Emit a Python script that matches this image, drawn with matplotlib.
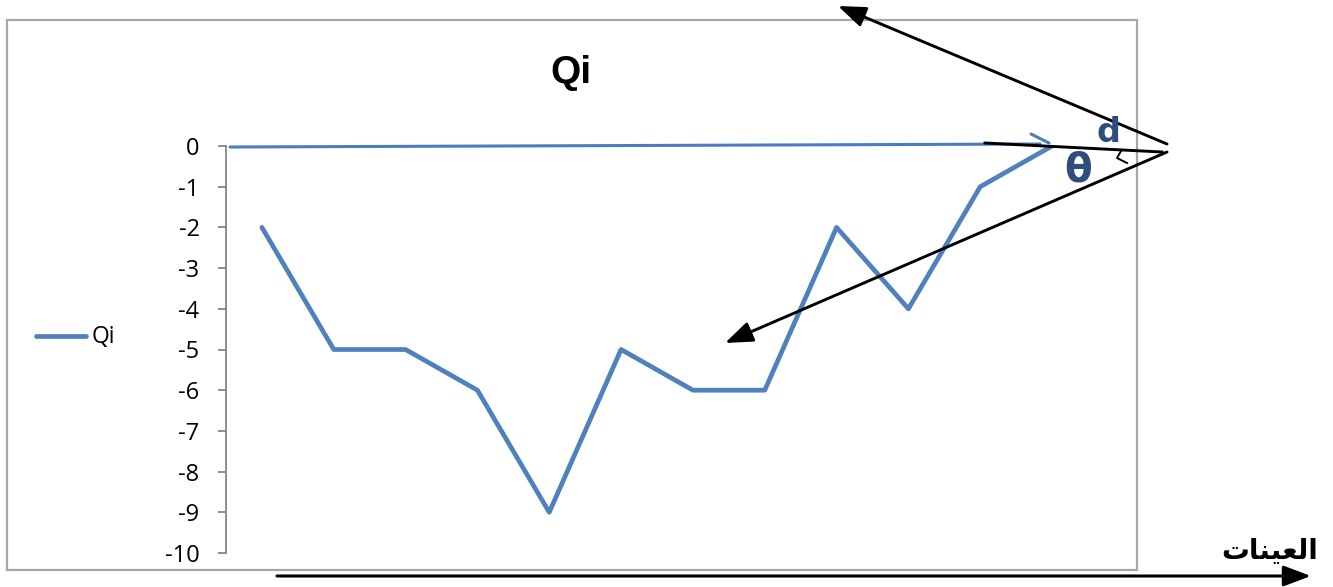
import matplotlib
matplotlib.use("Agg")
import matplotlib.pyplot as plt
from matplotlib.patches import Rectangle, FancyArrowPatch

# Qi values for the twelve samples
samples = list(range(1, 13))
qi = [-2, -5, -5, -6, -9, -5, -6, -6, -2, -4, -1, 0]
yticks = list(range(0, -11, -1))
series_name = "Qi"
title = "Qi"
# "العينات" (samples) written in visual order with Arabic presentation forms
x_label = "\uFE95\uFE8E\uFEE8\uFEF4\uFECC\uFEDF\uFE8D"

W, H = 1333, 587
fig = plt.figure(figsize=(W / 100, H / 100), dpi=100)
fig.patch.set_facecolor("white")

def fx(px):
    return px / W

def fy(py):
    return 1 - py / H

line_blue = "#4F81BD"

# chart area
left, right, top, bottom = 226, 1088, 146, 553
ax = fig.add_axes([fx(left), fy(bottom), fx(right) - fx(left), fy(top) - fy(bottom)])
ax.set_facecolor("none")
ax.plot(samples, qi, color=line_blue, lw=3.4, solid_joinstyle="round",
        solid_capstyle="round", label=series_name, zorder=3)
ax.set_xlim(0.5, 12.5)
ax.set_ylim(-10, 0)
ax.set_yticks(yticks)
ax.set_yticklabels([str(v) for v in yticks])
for s in ["top", "right", "bottom"]:
    ax.spines[s].set_visible(False)
ax.spines["left"].set_color("#868686")
ax.spines["left"].set_linewidth(1.3)
ax.set_xticks([])
ax.tick_params(axis="y", direction="out", length=6, width=1.3, color="#868686",
               pad=13, labelsize=17, labelcolor="black")
for lbl in ax.get_yticklabels():
    lbl.set_fontfamily("Open Sans")

# overlay in pixel coordinates for frame, title, legend and annotations
ov = fig.add_axes([0, 0, 1, 1], zorder=5)
ov.set_xlim(0, W)
ov.set_ylim(H, 0)
ov.axis("off")
ov.patch.set_alpha(0)

ov.add_patch(Rectangle((7, 20), 1130, 550, fill=False, ec="#a6a6a6", lw=1.6, zorder=1))

ov.text(571, 73, title, ha="center", va="center", fontsize=28, fontweight="bold",
        family="Liberation Sans", color="black")

# legend
ov.plot([36, 86], [336, 336], color=line_blue, lw=3.4, solid_capstyle="round")
ov.text(92, 337, series_name, ha="left", va="center", fontsize=16.5,
        family="Open Sans", color="black")

# hand-drawn reference line at zero with its chevron
ov.plot([230, 1040], [147, 144], color="#4A7EBB", lw=2.2, solid_capstyle="round")
ov.plot([1031, 1049], [134, 143], color="#4A7EBB", lw=2.2, solid_capstyle="round")

# black construction lines
ov.plot([985, 1162], [143, 152], color="black", lw=2.1)
for tip in [(838, 6), (725, 343)]:
    start = (1167, 144) if tip[1] < 100 else (1167, 152)
    ov.add_patch(FancyArrowPatch(start, tip, arrowstyle="-|>,head_length=12,head_width=4.5",
                                 mutation_scale=1.4, color="black", lw=2.1,
                                 shrinkA=0, shrinkB=0))
ov.plot([1121, 1117, 1127], [151, 158, 163], color="black", lw=1.4)

# handwritten angle symbols
ov.text(1108, 132, "d", ha="center", va="center", fontsize=24, fontweight="bold",
        family="DejaVu Sans", color="#2E4C7E")
ov.text(1078, 170, "\u03b8", ha="center", va="center", fontsize=29, fontweight="bold",
        family="DejaVu Sans", color="#2E4C7E")

# samples axis label and arrow
ov.text(1318, 551, x_label, ha="right", va="center", fontsize=20, fontweight="bold",
        family="DejaVu Sans", color="black")
ov.add_patch(FancyArrowPatch((277, 576), (1311, 576), arrowstyle="-|>,head_length=12,head_width=4.5",
                             mutation_scale=1.4, color="black", lw=2.2,
                             shrinkA=0, shrinkB=0))

fig.savefig("out.png", dpi=100, facecolor="white")
